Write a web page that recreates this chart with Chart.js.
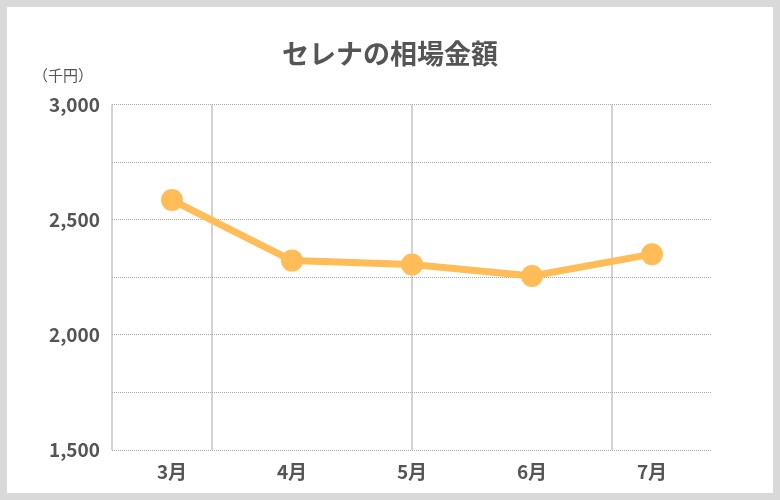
<!DOCTYPE html>
<html>
<head>
<meta charset="utf-8">
<script src="https://cdn.jsdelivr.net/npm/chart.js@4/dist/chart.umd.min.js"></script>
<style>
  html, body { margin: 0; padding: 0; background: #d9d9d9; }
  #frame { position: absolute; left: 7px; top: 7px; width: 766px; height: 486px; background: #fff; }
  #unit { position: absolute; left: 26px; top: 57px; font: 15px "Noto Sans CJK JP", sans-serif; color: #555; }
</style>
</head>
<body>
<div id="frame">
  <canvas id="price-chart" width="766" height="486"></canvas>
  <div id="unit">（千円）</div>
</div>
<script>
var months = ["3月", "4月", "5月", "6月", "7月"];
var prices = [2585, 2322, 2305, 2255, 2350];
var yTicks = [1500, 2000, 2500, 3000];
var vLines = [0, 1, 3, 5];

var jp = '"Noto Sans CJK JP", "Noto Sans", sans-serif';

var myLineChart = new Chart(document.getElementById("price-chart"), {
    type: 'line',
    data: {
        labels: months,
        datasets: [{
            label: "相場金額",
            data: prices,
            borderColor: "#ffbc57",
            backgroundColor: "#ffbc57",
            borderWidth: 7,
            pointRadius: 7.5,
            pointHoverRadius: 7.5,
            tension: 0,
            fill: false
        }]
    },
    options: {
        responsive: false,
        animation: false,
        layout: { padding: { left: 0, right: 0, top: 0, bottom: 7 } },
        plugins: {
            legend: { display: false },
            tooltip: { enabled: false },
            title: {
                display: true,
                text: "セレナの相場金額",
                color: "#555",
                font: { family: jp, size: 27, weight: 'bold', lineHeight: 1.2 },
                padding: { top: 31, bottom: 34 }
            }
        },
        scales: {
            x: {
                type: 'category',
                offset: true,
                afterFit: function(scale) { scale.height = 36; },
                grid: { display: false, drawTicks: false },
                border: { display: false },
                ticks: {
                    color: "#555",
                    padding: 10,
                    font: { family: jp, size: 19, weight: 'bold' }
                }
            },
            x2: {
                type: 'linear',
                position: 'bottom',
                min: 0,
                max: 6,
                afterFit: function(scale) { scale.height = 0; },
                afterBuildTicks: function(scale) {
                    scale.ticks = vLines.map(function(v){ return { value: v }; });
                },
                grid: { color: "#d3d3d3", lineWidth: 2, drawTicks: false },
                border: { display: false },
                ticks: { display: false }
            },
            y: {
                min: 1500,
                max: 3000,
                afterFit: function(scale) { scale.width = 105; },
                ticks: {
                    stepSize: 250,
                    color: "#555",
                    padding: 12,
                    font: { family: jp, size: 19, weight: 'bold' },
                    callback: function(v) {
                        return yTicks.indexOf(v) >= 0 ? v.toLocaleString('en-US') : '';
                    }
                },
                grid: { color: "#aaa", lineWidth: 1, drawTicks: false },
                border: { display: false, dash: [1, 1] }
            },
            yR: {
                type: 'linear',
                position: 'right',
                afterFit: function(scale) { scale.width = 61; },
                grid: { display: false, drawTicks: false },
                border: { display: false },
                ticks: { display: false }
            }
        }
    }
});
</script>
</body>
</html>
